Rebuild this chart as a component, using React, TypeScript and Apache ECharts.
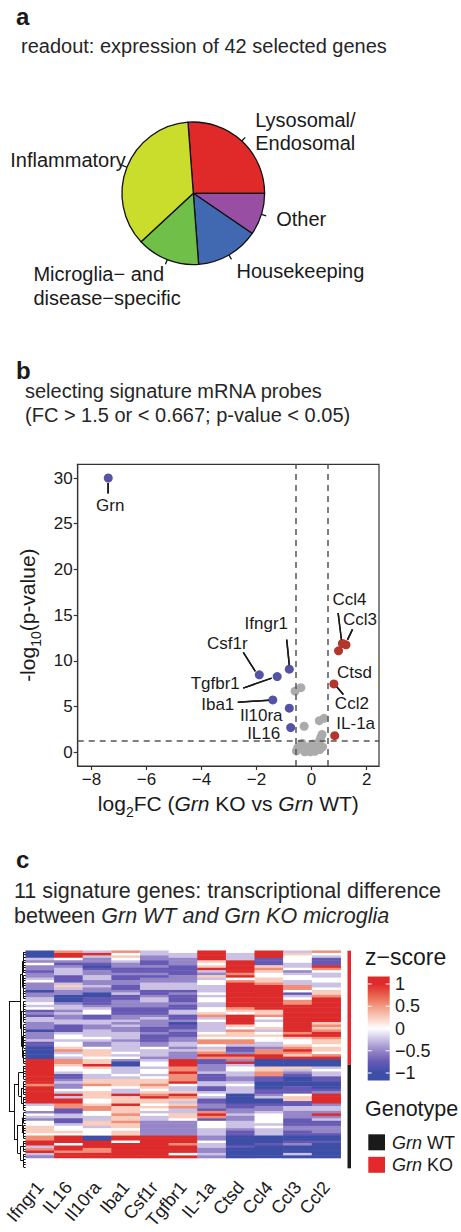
import React, { useEffect, useRef } from 'react';
import * as echarts from 'echarts';

const FONT = '"Liberation Sans", Arial, Helvetica, sans-serif';
const INK = '#1a1a1a';

// ---------------- Panel a: pie ----------------
const pieCategories = ['Lysosomal/\nEndosomal', 'Other', 'Housekeeping', 'Microglia− and\ndisease−specific', 'Inflammatory'];
const pieCounts = [11, 4, 6, 6, 15];
const pieColors = ['#E02A2A', '#984EA3', '#4169B1', '#70BF48', '#CADC2C'];
// label nudges (style only)
const pieLabelStyle: { padding: number[]; width?: number }[] = [
  { padding: [0, 0, 12, 5] },
  { padding: [7, 0, 0, 5] },
  { padding: [24, 0, 0, 0] },
  { padding: [43, 0, 0, 0], width: 127 },
  { padding: [0, 0, 10, 0], width: 107 },
];

// ---------------- Panel b: volcano ----------------
const downGenes = ['Grn', 'Ifngr1', 'Csf1r', 'Tgfbr1', 'Iba1', 'Il10ra', 'IL16'];
const downLog2FC = [-7.39, -0.81, -1.9, -1.25, -1.41, -0.81, -0.76];
const downNegLogP = [30.0, 9.09, 8.47, 8.28, 5.73, 4.82, 2.7];
const upGenes = ['Ccl4', 'Ccl3', 'Ctsd', 'Ccl2', 'IL-1a'];
const upLog2FC = [1.12, 1.25, 0.98, 0.81, 0.84];
const upNegLogP = [11.9, 11.75, 11.1, 7.48, 1.82];
const nsLog2FC = [-0.6, -0.39, -0.27, 0.28, 0.45, 0.38, 0.33, 0.28, 0.18, 0.08, -0.02, -0.12, -0.22, -0.35, -0.5, -0.55, 0.12, 0.3, -0.05, 0.04, -0.25, 0.4];
const nsNegLogP = [6.7, 7.07, 2.85, 3.46, 3.72, 1.95, 1.6, 1.2, 0.9, 0.5, 0.2, 0.6, 0.4, 1.0, 0.5, 0.15, 0.1, 0.3, 0.05, 0.9, 0.05, 0.6];
const fcCutoffs = [-0.585, 0.585];
const pCutoff = 1.301;
const volcanoXRange = [-8.5, 2.45];
const volcanoYRange = [-1.5, 31.5];
const volcanoXTicks = [-8, -6, -4, -2, 0, 2];
const volcanoYTicks = [0, 5, 10, 15, 20, 25, 30];
// label placement offsets in px from the point (style only)
const volcanoLabelPlacement: Record<string, [number, number]> = {
  Grn: [2, 27],
  Ifngr1: [-23, -46],
  Csf1r: [-32, -31],
  Tgfbr1: [-62, 7],
  Iba1: [-55, 5],
  Il10ra: [-28, 7],
  IL16: [-27, 6],
  Ccl4: [7, -44],
  Ccl3: [14, -25],
  Ctsd: [16, 22],
  Ccl2: [18, 20],
  'IL-1a': [21, -12],
};
// leader-line offsets in px from the point: [startDx, startDy, endDx, endDy] (style only)
const volcanoLeaders: Record<string, [number, number, number, number]> = {
  Grn: [0, 5, 0, 15.5],
  Ifngr1: [0, -4, -2.6, -29.5],
  Csf1r: [-4, -3.5, -16, -22.5],
  Tgfbr1: [-5.5, 1.5, -34, 11.5],
  Iba1: [-4, 0.3, -35, 2.3],
  Ccl4: [-1, -4, -4.3, -30.5],
  Ccl3: [1.5, -5, 6.5, -15.5],
  Ccl2: [3, 3, 9.5, 10.5],
};

// ---------------- Panel c: heatmap ----------------
const heatGenes = ['Ifngr1', 'IL16', 'Il10ra', 'Iba1', 'Csf1r', 'Tgfbr1', 'IL-1a', 'Ctsd', 'Ccl4', 'Ccl3', 'Ccl2'];
// z-score levels, one character per sample row
const zLevels: Record<string, number> = { B: -1, b: -0.75, p: -0.5, l: -0.25, w: 0, s: 0.25, o: 0.55, R: 1 };
const zIfngr1 = ['BBBlpwppbpplwpppBppllwlwbpbllpppBppplbbBBBBB', 'RRRRRRRRRRoRRRRRRR', 'lwwpwlpwwssswooRRloRlp'].join('');
const zIL16 = ['oRRwpbplllbbblslppBBBpllplppllbbblwwlwwsolwl', 'ooswwlbbplppwlRlRRoobbllbblwwswRRRwRRoRR'].join('');
const zIl10ra = ['lRlpp', 'bBbpp', 'llppl', 'ppBBb', 'bbplw', 'wbbll', 'pplll', 'wlppw', 'sssw', 'ssRsw', 'wllss', 'owwss', 'swwso', 'owwll', 'sslww', 'wBBRR', 'RooRR'].join('');
const zIba1 = ['owswl', 'ppbbp', 'bbppb', 'bplbb', 'pppbb', 'bpplp', 'lppll', 'lplll', 'lwlw', 'pBBll', 'lwlss', 'swllR', 'sssRs', 'ssoss', 'ossws', 'sRRwR', 'RRRRR'].join('');
const zCsf1r = ['llppb', 'bpbbp', 'bppll', 'lbbpl', 'lppbb', 'bplpp', 'pbbpb', 'bbppw', 'lllp', 'lwwlw', 'wlwss', 'oswso', 'Rssws', 'wlwll', 'ppppp', 'pRRRR', 'RRRRR'].join('');
const zTgfbr1 = ['wllpp', 'pbbbb', 'pppll', 'lbpbb', 'bpbbl', 'lbbpB', 'bbpbb', 'ppllp', 'lppp', 'RRRoo', 'RoooR', 'wllsR', 'oslso', 'llssw', 'ppppp', 'pRRRo', 'RRRwR'].join('');
const zIL1a = ['RRRRs', 'wsRlp', 'slwwl', 'llwlw', 'wllww', 'solwl', 'lllws', 'woowl', 'soRo', 'bbppp', 'lbbbl', 'lbblw', 'lbbpp', 'boRob', 'wwwll', 'lppwl', 'lpplp'].join('');
const zCtsd = ['wlllR', 'RRRRo', 'RwoRR', 'RRRRR', 'RRRos', 'wRRRR', 'swoss', 'woolb', 'bpRo', 'pRlww', 'llppl', 'wlllB', 'BBBbb', 'pplpp', 'lllpb', 'bBBBB', 'bBBBB'].join('');
const zCcl4 = ['RRRbb', 'bsosw', 'wssoR', 'RRRRR', 'RRRRs', 'sowlw', 'wslws', 'wwllp', 'ooRR', 'BBBss', 'oobbB', 'BBbbp', 'lBBbp', 'plwww', 'wlwll', 'lBBBb', 'BBBBB'].join('');
const zCcl3 = ['lswww', 'llwpl', 'wwllo', 'owblw', 'ooRRR', 'RRRRR', 'RRRoR', 'swwso', 'RosR', 'BBBsl', 'pbBBB', 'Bbbbw', 'ssbbl', 'lpppb', 'bbppb', 'bBBbp', 'BBBlB'].join('');
const zCcl2 = ['owlbb', 'bRowl', 'lwwll', 'wssoR', 'RRRRR', 'RRRRs', 'osoRR', 'ossws', 'swoR', 'BBBlw', 'llbbB', 'BBbpR', 'RRRpl', 'lpRpl', 'bbppp', 'bBBbB', 'BBBBB'].join('');
const heatColumns = [zIfngr1, zIL16, zIl10ra, zIba1, zCsf1r, zTgfbr1, zIL1a, zCtsd, zCcl4, zCcl3, zCcl2];
const genotypeGroups = ['Grn KO', 'Grn WT'];
const genotypeCounts = [44, 40];
const genotypeColors = ['#E3292B', '#1a1a1a'];
const heatStops = [-1, -0.75, -0.5, -0.25, 0, 0.25, 0.5, 0.75, 1];
const heatPalette = ['#3D4EA7', '#6659B4', '#9586C8', '#CAC1E4', '#FFFFFF', '#F9CDBD', '#F29A82', '#E8604C', '#DD2B2B'];
const zLegendTicks = [1, 0.5, 0, -0.5, -1];
// row dendrogram: leaf groups (row ranges) and merges [height, left, right]
const dendroGroups: [number, number][] = [[0, 3], [4, 8], [9, 13], [14, 18], [19, 22], [23, 27], [28, 32], [33, 37], [38, 43], [44, 49], [50, 55], [56, 61], [62, 66], [67, 72], [73, 77], [78, 83]];
const dendroLeafHeight = 0.12;
const dendroTree: any = [0.95,
  [0.3, [0.2, [0.15, 0, 1], [0.16, 2, 3]], [0.24, [0.16, 4, 5], [0.2, [0.14, 6, 7], 8]]],
  [0.66, [0.4, 9, [0.25, 10, 11]], [0.45, [0.22, 12, 13], [0.3, 14, 15]]],
];

const VOLCANO_GRID = { left: 77.7, top: 464.3, width: 301.3, height: 301.7 };

function buildDendroSegments() {
  const segs: number[][][] = [];
  const walk = (node: any): { pos: number; h: number } => {
    if (typeof node === 'number') {
      const [a, b] = dendroGroups[node];
      for (let r = a; r <= b; r++) segs.push([[0, r], [dendroLeafHeight, r]]);
      segs.push([[dendroLeafHeight, a], [dendroLeafHeight, b]]);
      return { pos: (a + b) / 2, h: dendroLeafHeight };
    }
    const [h, L, R] = node;
    const l = walk(L);
    const r = walk(R);
    segs.push([[l.h, l.pos], [h, l.pos]]);
    segs.push([[r.h, r.pos], [h, r.pos]]);
    segs.push([[h, l.pos], [h, r.pos]]);
    return { pos: (l.pos + r.pos) / 2, h };
  };
  walk(dendroTree);
  return segs;
}

const minus = (v: number) => (v < 0 ? '−' + Math.abs(v) : String(v));

const downItems = downGenes.map((g, i) => ({ name: g, value: [downLog2FC[i], downNegLogP[i]] }));
const upItems = upGenes.map((g, i) => ({ name: g, value: [upLog2FC[i], upNegLogP[i]] }));

const txt = (text: string, x: number, y: number, size: number, extra: any = {}) => ({
  type: 'text', x, y, silent: true,
  style: { text, fill: INK, fontSize: size, fontFamily: FONT, align: 'left', textAlign: 'left', verticalAlign: 'middle', textVerticalAlign: 'middle', ...extra },
});

function buildGraphic() {
  const zMaxLeg = 1.17;
  const legTop = 976.4, legH = 104.2, legX = 367.7, legW = 22;
  const zy = (v: number) => legTop + ((zMaxLeg - v) / (2 * zMaxLeg)) * legH;
  const stops: any[] = [{ offset: 0, color: heatPalette[heatPalette.length - 1] }];
  for (let i = heatStops.length - 1; i >= 0; i--) {
    stops.push({ offset: (zMaxLeg - heatStops[i]) / (2 * zMaxLeg), color: heatPalette[i] });
  }
  stops.push({ offset: 1, color: heatPalette[0] });

  const graphic: any[] = [
    txt('a', 16, 16.6, 24, { fontWeight: 'bold' }),
    txt('readout: expression of 42 selected genes', 21, 46.3, 20, { fill: '#262626' }),
    txt('b', 16, 370, 24, { fontWeight: 'bold' }),
    txt('selecting signature mRNA probes', 25, 391.3, 20, { fill: '#262626' }),
    txt('(FC > 1.5 or < 0.667; p-value < 0.05)', 25, 414.7, 20, { fill: '#262626' }),
    txt('c', 16, 859.6, 24, { fontWeight: 'bold' }),
    txt('11 signature genes: transcriptional difference', 14, 890.8, 21.5, { fill: '#262626' }),
    txt('between {i|Grn WT and Grn KO microglia}', 14, 915.8, 21.5, {
      fill: '#262626',
      rich: { i: { fontStyle: 'italic', fontSize: 21.5, fontFamily: FONT, fill: '#262626' } },
    }),
    txt('z−score', 365, 957, 23),
    { type: 'rect', silent: true, shape: { x: legX, y: legTop, width: legW, height: legH }, style: { fill: new echarts.graphic.LinearGradient(0, 0, 0, 1, stops) } },
  ];
  zLegendTicks.forEach((v) => {
    const y = zy(v);
    graphic.push({ type: 'line', silent: true, shape: { x1: legX, y1: y, x2: legX + 4, y2: y }, style: { stroke: '#fff', lineWidth: 1 } });
    graphic.push({ type: 'line', silent: true, shape: { x1: legX + legW - 4, y1: y, x2: legX + legW, y2: y }, style: { stroke: '#fff', lineWidth: 1 } });
    graphic.push(txt(minus(v), 395, y, 18));
  });
  graphic.push(txt('Genotype', 365, 1109, 21.5));
  const legendOrder = [1, 0];
  legendOrder.forEach((gi, k) => {
    const y = 1134.3 + k * 22.5;
    graphic.push({ type: 'rect', silent: true, shape: { x: 368.3, y, width: 16.7, height: 16 }, style: { fill: genotypeColors[gi] } });
    const parts = genotypeGroups[gi].split(' ');
    graphic.push(txt('{i|' + parts[0] + '} ' + parts[1], 392, y + 8.5, 18, {
      rich: { i: { fontStyle: 'italic', fontSize: 18, fontFamily: FONT, fill: INK } },
    }));
  });
  return graphic;
}

function buildOption() {
  const nRows = genotypeCounts.reduce((a, b) => a + b, 0);
  const rowIds = Array.from({ length: nRows }, (_, i) => String(i));
  const heatData: number[][] = [];
  heatColumns.forEach((col, ci) => {
    for (let ri = 0; ri < Math.min(col.length, nRows); ri++) heatData.push([ci, ri, zLevels[col[ri]]]);
  });
  const genoData: number[][] = [];
  let start = 0;
  genotypeCounts.forEach((c, gi) => {
    genoData.push([start, start + c - 1, gi]);
    start += c;
  });

  // leader lines as markLines in data units (px offsets converted with the axis scale)
  const xPerPx = (volcanoXRange[1] - volcanoXRange[0]) / VOLCANO_GRID.width;
  const yPerPx = (volcanoYRange[1] - volcanoYRange[0]) / VOLCANO_GRID.height;
  const leaderMarkLine = (items: { name: string; value: number[] }[]) => ({
    silent: true, symbol: ['none', 'none'], label: { show: false },
    lineStyle: { type: 'solid', color: INK, width: 1.5, opacity: 1 },
    data: items
      .filter((d) => volcanoLeaders[d.name])
      .map((d) => {
        const L = volcanoLeaders[d.name];
        return [
          { coord: [d.value[0] + L[0] * xPerPx, d.value[1] - L[1] * yPerPx] },
          { coord: [d.value[0] + L[2] * xPerPx, d.value[1] - L[3] * yPerPx] },
        ];
      }),
  });

  const volcanoLabel = {
    show: true, position: 'inside', formatter: '{b}', fontSize: 17, color: INK, fontFamily: FONT,
    textBorderWidth: 0, opacity: 1,
  };
  const volcanoLayout = (p: any) => {
    const pl = volcanoLabelPlacement[p.text] || [0, 0];
    const cx = p.rect.x + p.rect.width / 2;
    const cy = p.rect.y + p.rect.height / 2;
    return { x: cx + pl[0], y: cy + pl[1], align: 'center', verticalAlign: 'middle' };
  };

  const axisNameStyle = {
    fontSize: 21, color: INK, fontFamily: FONT, lineHeight: 30,
    rich: {
      sub: { fontSize: 14, fontFamily: FONT, color: INK, verticalAlign: 'bottom', lineHeight: 14 },
      it: { fontSize: 21, fontFamily: FONT, color: INK, fontStyle: 'italic', lineHeight: 30 },
    },
  };

  return {
    animation: false,
    backgroundColor: '#ffffff',
    textStyle: { fontFamily: FONT },
    graphic: buildGraphic(),
    grid: [
      { ...VOLCANO_GRID, show: true, borderColor: '#333', borderWidth: 1.2, backgroundColor: 'transparent' },
      { left: 25.7, top: 950.7, width: 315, height: 217.6 },
      { left: 8, top: 950.7, width: 17.7, height: 217.6 },
      { left: 347.5, top: 950.7, width: 3.5, height: 217.6 },
    ],
    xAxis: [
      {
        type: 'value', gridIndex: 0, min: volcanoXRange[0], max: volcanoXRange[1],
        axisLine: { show: true, onZero: false, lineStyle: { color: '#333', width: 1.2 } },
        axisTick: { show: true, length: 4, customValues: volcanoXTicks, lineStyle: { color: '#333', width: 1.2 } },
        axisLabel: { customValues: volcanoXTicks, formatter: (v: number) => minus(v), fontSize: 17, color: INK, margin: 5, fontFamily: FONT },
        splitLine: { show: false },
        name: 'log{sub|2}FC ({it|Grn} KO vs {it|Grn} WT)', nameLocation: 'middle', nameGap: 17,
        nameTextStyle: axisNameStyle,
      },
      {
        type: 'category', gridIndex: 1, data: heatGenes, position: 'bottom',
        axisLine: { show: false }, axisTick: { show: false }, splitLine: { show: false },
        axisLabel: { interval: 0, rotate: 50, margin: 26, fontSize: 18, color: INK, fontFamily: FONT },
      },
      { type: 'value', gridIndex: 2, min: 0, max: 1, inverse: true, show: false },
      { type: 'value', gridIndex: 3, min: 0, max: 1, show: false },
    ],
    yAxis: [
      {
        type: 'value', gridIndex: 0, min: volcanoYRange[0], max: volcanoYRange[1],
        axisLine: { show: true, onZero: false, lineStyle: { color: '#333', width: 1.2 } },
        axisTick: { show: true, length: 4, customValues: volcanoYTicks, lineStyle: { color: '#333', width: 1.2 } },
        axisLabel: { customValues: volcanoYTicks, fontSize: 17, color: INK, margin: 5, fontFamily: FONT },
        splitLine: { show: false },
        name: '-log{sub|10}(p-value)', nameLocation: 'middle', nameGap: 31,
        nameTextStyle: axisNameStyle,
      },
      { type: 'category', gridIndex: 1, data: rowIds, inverse: true, show: false },
      { type: 'value', gridIndex: 2, min: -0.5, max: nRows - 0.5, inverse: true, show: false },
      { type: 'value', gridIndex: 3, min: -0.5, max: nRows - 0.5, inverse: true, show: false },
    ],
    visualMap: [
      { type: 'continuous', show: false, seriesIndex: 4, dimension: 2, min: -1, max: 1, inRange: { color: heatPalette } },
    ],
    series: [
      {
        type: 'pie', center: [193.3, 193.3], radius: 71.3, startAngle: (pieCounts[0] / pieCounts.reduce((a, b) => a + b, 0)) * 360,
        clockwise: true, avoidLabelOverlap: false, silent: true,
        itemStyle: { borderColor: '#111', borderWidth: 1.3 },
        labelLine: { show: true, length: 5, length2: 0, lineStyle: { color: '#111', width: 1.3 } },
        label: { show: true, position: 'outside', fontSize: 20, color: INK, fontFamily: FONT, lineHeight: 23.5, alignTo: 'none' },
        data: pieCategories.map((name, i) => {
          const st = pieLabelStyle[i];
          const m: any = { fontSize: 20, lineHeight: 23.5, color: INK, fontFamily: FONT };
          if (st.width) {
            m.width = st.width;
            m.align = 'left';
          }
          const label: any = {
            padding: st.padding,
            formatter: name.split('\n').map((s) => '{m|' + s + '}').join('\n'),
            rich: { m },
          };
          return { name, value: pieCounts[i], itemStyle: { color: pieColors[i] }, label };
        }),
      },
      {
        type: 'scatter', xAxisIndex: 0, yAxisIndex: 0, symbolSize: 9, silent: true,
        itemStyle: { color: '#ABABAB', opacity: 1 },
        data: nsLog2FC.map((x, i) => [x, nsNegLogP[i]]),
        markLine: {
          silent: true, symbol: 'none', label: { show: false },
          lineStyle: { type: [6, 5], color: '#555', width: 1.5 },
          data: [{ xAxis: fcCutoffs[0] }, { xAxis: fcCutoffs[1] }, { yAxis: pCutoff }],
        },
      },
      {
        type: 'scatter', xAxisIndex: 0, yAxisIndex: 0, symbolSize: 9, silent: true, z: 3,
        itemStyle: { color: '#5653A6', opacity: 1 },
        data: downItems,
        label: volcanoLabel, labelLine: { show: false }, labelLayout: volcanoLayout,
        markLine: leaderMarkLine(downItems),
      },
      {
        type: 'scatter', xAxisIndex: 0, yAxisIndex: 0, symbolSize: 9, silent: true, z: 3,
        itemStyle: { color: '#B3362A', opacity: 1 },
        data: upItems,
        label: volcanoLabel, labelLine: { show: false }, labelLayout: volcanoLayout,
        markLine: leaderMarkLine(upItems),
      },
      {
        type: 'heatmap', xAxisIndex: 1, yAxisIndex: 1, data: heatData, silent: true,
        itemStyle: { borderWidth: 0 },
      },
      {
        type: 'lines', coordinateSystem: 'cartesian2d', xAxisIndex: 2, yAxisIndex: 2, silent: true,
        polyline: false, symbol: 'none',
        lineStyle: { color: '#111', width: 1, opacity: 1 },
        data: buildDendroSegments().map((s) => ({ coords: s })),
      },
      {
        type: 'custom', xAxisIndex: 3, yAxisIndex: 3, silent: true,
        data: genoData,
        renderItem: (params: any, api: any) => {
          const s = api.value(0), e = api.value(1), g = api.value(2);
          const p0 = api.coord([0, s - 0.5]);
          const p1 = api.coord([1, e + 0.5]);
          return {
            type: 'rect',
            shape: { x: p0[0], y: Math.min(p0[1], p1[1]), width: p1[0] - p0[0], height: Math.abs(p1[1] - p0[1]) },
            style: { fill: genotypeColors[g] },
          };
        },
      },
    ],
  };
}

export default function App() {
  const ref = useRef<HTMLDivElement>(null);
  useEffect(() => {
    if (!ref.current) return;
    const chart = echarts.init(ref.current, undefined, { renderer: 'svg' });
    chart.setOption(buildOption() as any);
    // the same leader lines again as graphic strokes anchored through the axes' own scale
    const leaders: any[] = [];
    [...downItems, ...upItems].forEach((d) => {
      const L = volcanoLeaders[d.name];
      if (!L) return;
      const p = chart.convertToPixel({ xAxisIndex: 0, yAxisIndex: 0 }, d.value) as number[];
      if (!p || isNaN(p[0])) return;
      leaders.push({
        type: 'line', silent: true, z: 100,
        shape: { x1: p[0] + L[0], y1: p[1] + L[1], x2: p[0] + L[2], y2: p[1] + L[3] },
        style: { stroke: INK, lineWidth: 1.5 },
      });
    });
    if (leaders.length) chart.setOption({ graphic: [...buildGraphic(), ...leaders] } as any);
    return () => chart.dispose();
  }, []);
  return <div ref={ref} style={{ position: 'absolute', left: 0, top: 0, width: 461, height: 1232 }} />;
}
